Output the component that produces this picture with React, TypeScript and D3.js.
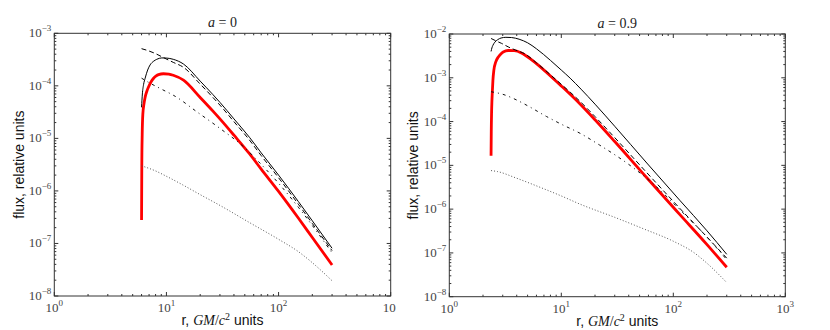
import React from 'react';
import * as d3 from 'd3';

// ---- data (r in GM/c^2, flux in relative units) ----
// panel a = 0
const a0RedR = [6, 6.03, 6.08, 6.16, 6.3, 6.46, 6.7, 6.92, 7.3, 7.65, 8.1, 8.5, 9.4, 10.5, 11.5, 14.2, 20, 26, 30, 40, 55, 70, 100, 150, 200, 300];
const a0RedF = [2.8e-7, 3e-6, 1.2e-5, 2.9e-5, 4.5e-5, 6.1e-5, 8e-5, 9.5e-5, 1.2e-4, 1.38e-4, 1.55e-4, 1.64e-4, 1.7e-4, 1.67e-4, 1.59e-4, 1.28e-4, 6e-5, 3.3e-5, 2.35e-5, 1.15e-5, 5.1e-6, 2.6e-6, 9.8e-7, 3.05e-7, 1.3e-7, 3.9e-8];

const a0SolidR = [6, 6.1, 6.25, 6.46, 6.8, 7.15, 7.7, 8.2, 9.1, 10, 11.5, 14.2, 20, 26, 30, 40, 55, 70, 100, 150, 200, 300];
const a0SolidF = [3.9e-5, 7e-5, 1.05e-4, 1.4e-4, 2e-4, 2.5e-4, 2.95e-4, 3.2e-4, 3.4e-4, 3.38e-4, 3.2e-4, 2.6e-4, 1.23e-4, 6.8e-5, 4.85e-5, 2.35e-5, 1.05e-5, 5.3e-6, 2e-6, 6.3e-7, 2.7e-7, 8.1e-8];

const a0DashR = [6, 7, 8, 9.4, 11.5, 14.2, 20, 26, 30, 40, 55, 70, 100, 150, 200, 300];
const a0DashF = [5.1e-4, 4.6e-4, 4.1e-4, 3.45e-4, 2.8e-4, 2.25e-4, 1.08e-4, 6e-5, 4.3e-5, 2.08e-5, 9.3e-6, 4.7e-6, 1.78e-6, 5.6e-7, 2.4e-7, 7.3e-8];

const a0DashDotR = [6, 7, 8.8, 12, 18.7, 30, 48.5, 70, 100, 150, 200, 300];
const a0DashDotF = [1.4e-4, 1.15e-4, 8.9e-5, 6.3e-5, 3.2e-5, 1.55e-5, 7e-6, 3.2e-6, 1.4e-6, 4.9e-7, 2.2e-7, 6.6e-8];

const a0DotR = [6, 8, 10, 14, 20, 30, 55, 100, 150, 200, 300];
const a0DotF = [3e-6, 2.4e-6, 1.9e-6, 1.3e-6, 8.5e-7, 5.3e-7, 2.5e-7, 1.2e-7, 7e-8, 4.3e-8, 1.95e-8];

// panel a = 0.9
const a9RedR = [2.36, 2.37, 2.385, 2.4, 2.42, 2.45, 2.5, 2.6, 2.74, 2.9, 3.03, 3.36, 3.8, 4.4, 5.26, 6, 8, 10, 12, 15, 20, 30, 58, 114, 200, 300];
const a9RedF = [1.65e-5, 6e-5, 1.6e-4, 2.8e-4, 4.5e-4, 8.5e-4, 1.5e-3, 2.3e-3, 3e-3, 3.55e-3, 3.9e-3, 4.2e-3, 4.15e-3, 3.7e-3, 2.75e-3, 2.1e-3, 1.1e-3, 6.5e-4, 4.2e-4, 2.4e-4, 1.1e-4, 3.5e-5, 5.2e-6, 7.6e-7, 1.55e-7, 4.7e-8];

const a9SolidR = [2.36, 2.4, 2.45, 2.55, 2.7, 2.9, 3.2, 3.6, 4.2, 5, 6, 8, 10, 12, 15, 20, 30, 58, 114, 200, 300];
const a9SolidF = [4e-3, 4.8e-3, 5.5e-3, 6.5e-3, 7.4e-3, 8.1e-3, 8.4e-3, 8.3e-3, 7.6e-3, 6.3e-3, 4.6e-3, 2.5e-3, 1.5e-3, 9.8e-4, 5.5e-4, 2.5e-4, 7.8e-5, 1.13e-5, 1.6e-6, 3.2e-7, 9.3e-8];

const a9DashR = [2.36, 2.6, 2.93, 3.4, 3.9, 4.75, 6, 8, 10, 12, 15, 20, 30, 58, 114, 200, 300];
const a9DashF = [7.9e-3, 7e-3, 6.1e-3, 5e-3, 4.3e-3, 3.5e-3, 2.2e-3, 1.17e-3, 7.1e-4, 4.7e-4, 2.75e-4, 1.3e-4, 4.3e-5, 6.8e-6, 1.05e-6, 2.3e-7, 7.6e-8];

const a9DashDotR = [2.36, 3, 4, 5, 7.4, 10, 14.7, 22, 40, 66, 114, 200, 300];
const a9DashDotF = [4.8e-4, 4.2e-4, 3.1e-4, 2.3e-4, 1.3e-4, 8.7e-5, 5.4e-5, 2.9e-5, 1.05e-5, 3.8e-6, 9.8e-7, 2.3e-7, 7e-8];

const a9DotR = [2.36, 2.7, 3.9, 6, 10, 14.7, 30, 55, 100, 150, 200, 300];
const a9DotF = [7.6e-6, 7.2e-6, 5.2e-6, 3.4e-6, 2e-6, 1.3e-6, 6.5e-7, 3.5e-7, 1.85e-7, 1.05e-7, 5.8e-8, 2.1e-8];

// axis ticks
const xTickExps = [0, 1, 2, 3];
const a0YTickExps = [-8, -7, -6, -5, -4, -3];
const a9YTickExps = [-8, -7, -6, -5, -4, -3, -2];

const SERIF = "'Liberation Serif', 'DejaVu Serif', serif";
const SANS = "'Liberation Sans', Arial, sans-serif";

const lineStyles: any = {
  red: { stroke: '#ff0000', width: 2.8, dash: null },
  solid: { stroke: '#000', width: 1, dash: null },
  dashed: { stroke: '#000', width: 1, dash: '5,3' },
  dashdot: { stroke: '#111', width: 1, dash: '3,4,1,4' },
  dotted: { stroke: '#555', width: 1, dash: '1,2' },
};

function Pow({ x, y, exp, anchor, clipBase }: any) {
  return (
    <text x={x} y={y} textAnchor={anchor} fontFamily={SERIF} fontSize={13} fill="#444">
      <tspan>10</tspan>
      {clipBase ? null : <tspan dy={-6} fontSize={9}>{exp < 0 ? '\u2212' + Math.abs(exp) : String(exp)}</tspan>}
    </text>
  );
}

function Panel({ x0, x1, y0, y1, yExps, title, series, ylabelX, cutLastX }: any) {
  const xs = d3.scaleLog().domain([1, 1000]).range([x0, x1]);
  const ys = d3.scaleLog().domain([Math.pow(10, yExps[0]), Math.pow(10, yExps[yExps.length - 1])]).range([y1, y0]);

  const xMinor: number[] = [];
  for (let e = 0; e < 3; e++) for (let k = 2; k <= 9; k++) xMinor.push(k * Math.pow(10, e));
  const yMinor: number[] = [];
  for (let e = yExps[0]; e < yExps[yExps.length - 1]; e++) for (let k = 2; k <= 9; k++) yMinor.push(k * Math.pow(10, e));

  const line = d3.line<[number, number]>()
    .x(d => xs(d[0]))
    .y(d => ys(d[1]))
    .curve(d3.curveMonotoneX);

  const major = 4, minor = 2;
  const cx = (x0 + x1) / 2;
  const cy = (y0 + y1) / 2;

  return (
    <g>
      {series.map((s: any, i: number) => {
        const st = lineStyles[s.style];
        const pts = s.r.map((r: number, j: number) => [r, s.f[j]] as [number, number]);
        return (
          <path key={i} d={line(pts) || ''} fill="none" stroke={st.stroke} strokeWidth={st.width}
            strokeDasharray={st.dash || undefined} strokeLinejoin="round" />
        );
      })}
      {/* frame */}
      <rect x={x0} y={y0} width={x1 - x0} height={y1 - y0} fill="none" stroke="#333" strokeWidth={1} />
      {xTickExps.map(e => {
        const px = xs(Math.pow(10, e));
        return (
          <g key={'xt' + e}>
            <line x1={px} x2={px} y1={y1} y2={y1 - major} stroke="#333" />
            <line x1={px} x2={px} y1={y0} y2={y0 + major} stroke="#333" />
          </g>
        );
      })}
      {xMinor.map(v => {
        const px = xs(v);
        return (
          <g key={'xm' + v}>
            <line x1={px} x2={px} y1={y1} y2={y1 - minor} stroke="#333" />
            <line x1={px} x2={px} y1={y0} y2={y0 + minor} stroke="#333" />
          </g>
        );
      })}
      {yExps.map((e: number) => {
        const py = ys(Math.pow(10, e));
        return (
          <g key={'yt' + e}>
            <line x1={x0} x2={x0 + major} y1={py} y2={py} stroke="#333" />
            <line x1={x1} x2={x1 - major} y1={py} y2={py} stroke="#333" />
          </g>
        );
      })}
      {yMinor.map(v => {
        const py = ys(v);
        return (
          <g key={'ym' + v}>
            <line x1={x0} x2={x0 + minor} y1={py} y2={py} stroke="#333" />
            <line x1={x1} x2={x1 - minor} y1={py} y2={py} stroke="#333" />
          </g>
        );
      })}
      {xTickExps.map(e => {
        const px = xs(Math.pow(10, e));
        const cut = cutLastX && e === 3;
        return cut
          ? <Pow key={'xl' + e} x={px - 8} y={y1 + 16} exp={e} anchor="start" clipBase />
          : <Pow key={'xl' + e} x={px} y={y1 + 16} exp={e} anchor="middle" />;
      })}
      {yExps.map((e: number) => (
        <Pow key={'yl' + e} x={x0 - 3} y={ys(Math.pow(10, e)) + 4} exp={e} anchor="end" />
      ))}
      <text x={cx} y={y0 - 6} textAnchor="middle" fontFamily={SERIF} fontSize={14} fill="#222">
        <tspan fontStyle="italic">a</tspan>
        <tspan> = {title}</tspan>
      </text>
      <text x={cx} y={y1 + 29} textAnchor="middle" fontSize={14} fill="#111">
        <tspan fontFamily={SANS}>r, </tspan>
        <tspan fontFamily={SERIF} fontStyle="italic">GM</tspan>
        <tspan fontFamily={SERIF}>/</tspan>
        <tspan fontFamily={SERIF} fontStyle="italic">c</tspan>
        <tspan fontFamily={SERIF} fontSize={10} dy={-5}>2</tspan>
        <tspan fontFamily={SANS} dy={5}> units</tspan>
      </text>
      <text transform={`translate(${ylabelX},${cy}) rotate(-90)`} textAnchor="middle"
        fontFamily={SANS} fontSize={14} fill="#111">flux, relative units</text>
    </g>
  );
}

export default function App() {
  const a0Series = [
    { r: a0RedR, f: a0RedF, style: 'red' },
    { r: a0DotR, f: a0DotF, style: 'dotted' },
    { r: a0DashDotR, f: a0DashDotF, style: 'dashdot' },
    { r: a0DashR, f: a0DashF, style: 'dashed' },
    { r: a0SolidR, f: a0SolidF, style: 'solid' },
  ];
  const a9Series = [
    { r: a9RedR, f: a9RedF, style: 'red' },
    { r: a9DotR, f: a9DotF, style: 'dotted' },
    { r: a9DashDotR, f: a9DashDotF, style: 'dashdot' },
    { r: a9DashR, f: a9DashF, style: 'dashed' },
    { r: a9SolidR, f: a9SolidF, style: 'solid' },
  ];
  return (
    <svg width={830} height={330} style={{ position: 'absolute', left: 0, top: 0, background: '#fff' }}>
      <rect x={0} y={0} width={830} height={330} fill="#fff" />
      <Panel x0={54.3} x1={390.7} y0={33.3} y1={296} yExps={a0YTickExps} title="0"
        series={a0Series} ylabelX={24} cutLastX />
      <Panel x0={449.3} x1={785.3} y0={34} y1={296.7} yExps={a9YTickExps} title="0.9"
        series={a9Series} ylabelX={418} />
    </svg>
  );
}
